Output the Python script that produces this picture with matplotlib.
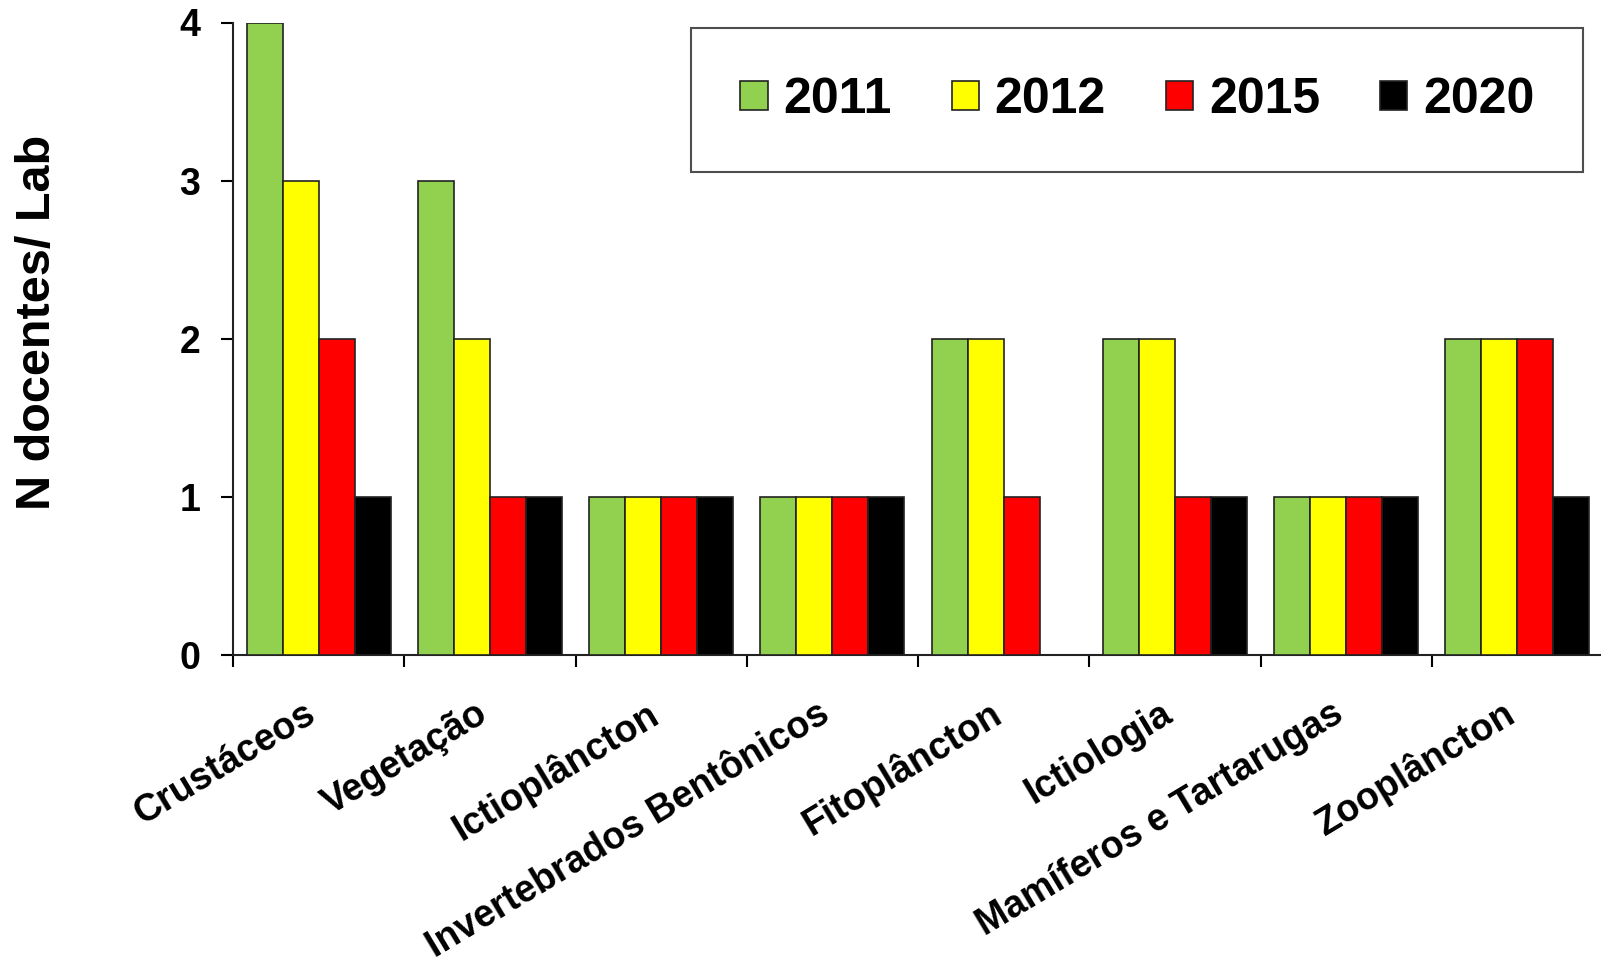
import matplotlib.pyplot as plt
import matplotlib.transforms as mtransforms
import numpy as np

plt.rcParams['font.family'] = ['Liberation Sans', 'DejaVu Sans']
plt.rcParams['font.weight'] = 'bold'

# Dados
categorias = ['Crustáceos', 'Vegetação', 'Ictioplâncton', 'Invertebrados Bentônicos',
              'Fitoplâncton', 'Ictiologia', 'Mamíferos e Tartarugas', 'Zooplâncton']
anos = ['2011', '2012', '2015', '2020']
v2011 = [4, 3, 1, 1, 2, 2, 1, 2]
v2012 = [3, 2, 1, 1, 2, 2, 1, 2]
v2015 = [2, 1, 1, 1, 1, 1, 1, 2]
v2020 = [1, 1, 1, 1, 0, 1, 1, 1]
cores = ['#92D050', '#FFFF00', '#FF0000', '#000000']

series = [v2011, v2012, v2015, v2020]
x = np.arange(len(categorias))
largura = 0.21

fig = plt.figure(figsize=(16.01, 9.65), dpi=100)
ax = fig.add_axes([233 / 1601, 1 - 655 / 965, 1370 / 1601, 632.5 / 965])

for i, (vals, cor, ano) in enumerate(zip(series, cores, anos)):
    ax.bar(x + (i - 1.5) * largura, vals, largura, color=cor, edgecolor='#222222',
           linewidth=1.2, label=ano, zorder=3)

ax.set_xlim(-0.5, len(categorias) - 0.5)
ax.set_ylim(0, 4)
ax.set_yticks([0, 1, 2, 3, 4])
ax.tick_params(axis='y', direction='out', length=8.6, width=1.5, pad=15, labelsize=27)

# ticks maiores nas divisas, rótulos nos centros
ax.set_xticks(np.arange(-0.5, len(categorias) + 0.5, 1))
ax.set_xticklabels([])
ax.set_xticks(x, minor=True)
ax.set_xticklabels(categorias, minor=True, rotation=31, ha='right',
                   rotation_mode='anchor', fontsize=27)
ax.tick_params(axis='x', which='major', direction='out', length=8.6, width=1.5)
ax.tick_params(axis='x', which='minor', length=0, pad=29)
desloc = mtransforms.ScaledTranslation(-0.15, 0, fig.dpi_scale_trans)
for rot in ax.get_xticklabels(minor=True):
    rot.set_transform(rot.get_transform() + desloc)

for lado in ['top', 'right']:
    ax.spines[lado].set_visible(False)
for lado in ['left', 'bottom']:
    ax.spines[lado].set_linewidth(1.5)
    ax.spines[lado].set_color('#222222')

ax.set_ylabel('N docentes/ Lab', fontsize=35, fontweight='bold')
ax.yaxis.set_label_coords(-0.126, 0.526)

leg = ax.legend(ncol=4, loc='center', bbox_to_anchor=(0.660, 0.877), fontsize=36,
                handlelength=0.55, handleheight=0.53, handletextpad=0.31,
                columnspacing=1.2, borderpad=0.98, fancybox=False, frameon=True)
leg.get_frame().set_edgecolor('#222222')
leg.get_frame().set_linewidth(1.5)

fig.savefig('out.png', dpi=100)
